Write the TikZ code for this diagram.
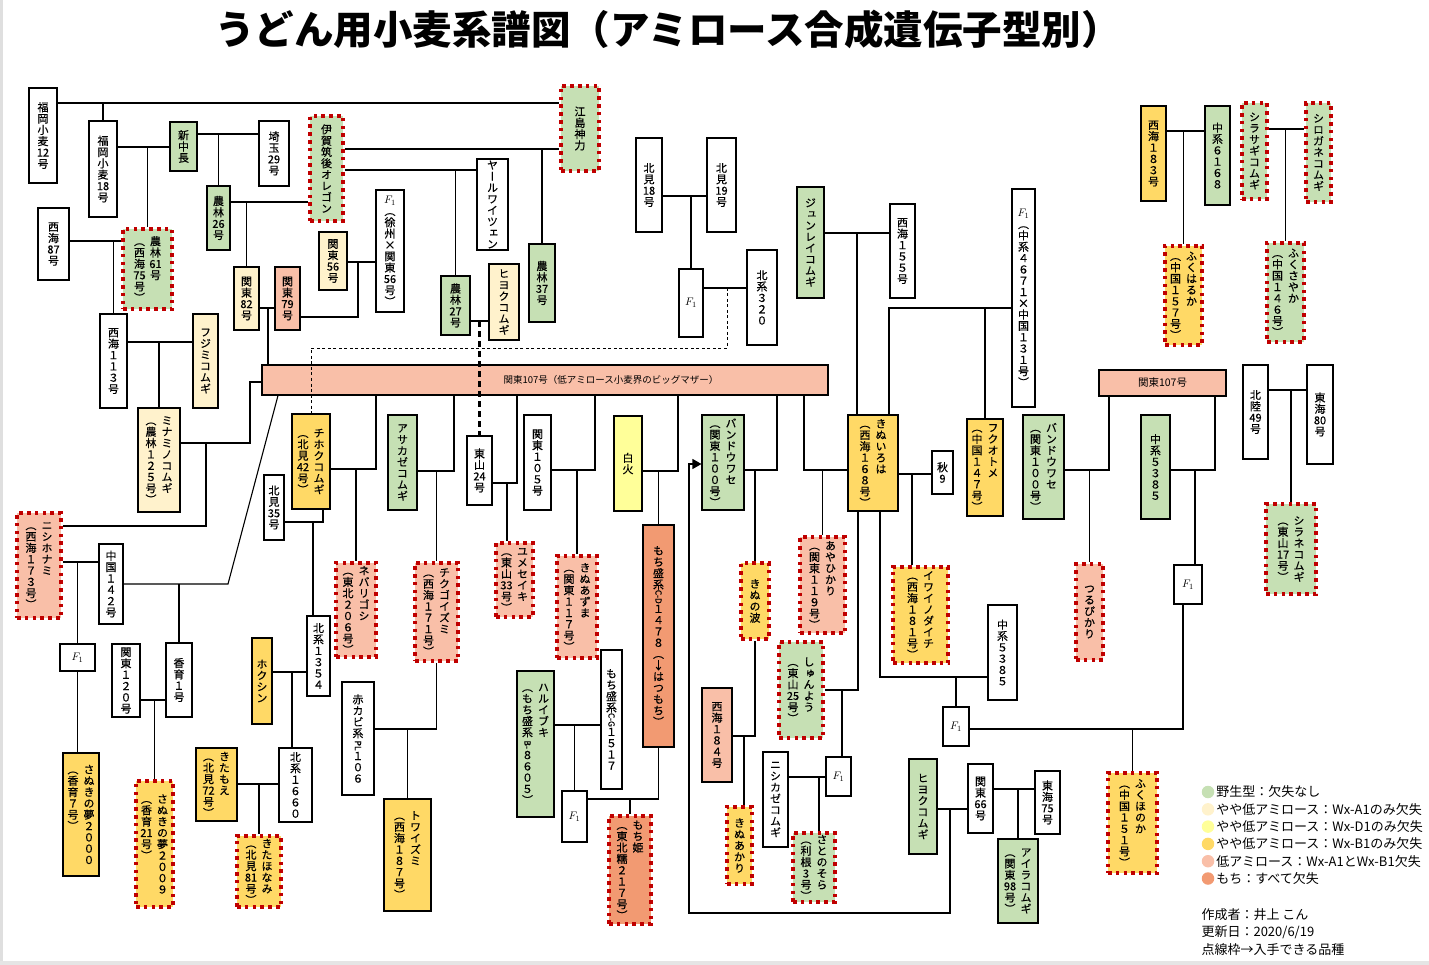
\documentclass[tikz,border=0pt]{standalone}
\usepackage{fontspec}
\usepackage{graphicx}
\setmainfont{Noto Sans CJK JP}
\newfontfamily\tatefont[RawFeature=+vert, FakeBold=0.4]{Noto Sans CJK JP}
\usetikzlibrary{arrows.meta}

\definecolor{cg}{HTML}{C6E0B4}% wild type
\definecolor{cc}{HTML}{FFF2CC}% Wx-A1 only
\definecolor{cy}{HTML}{FFFF99}% Wx-D1 only
\definecolor{co}{HTML}{FFD966}% Wx-B1 only
\definecolor{cs}{HTML}{F9BFA8}% low amylose
\definecolor{cm}{HTML}{F29A72}% waxy
\definecolor{dred}{HTML}{C00000}

% vertical writing: one item per line, {..} keeps a group together
\makeatletter
\newcommand\tate[1]{\vtop{\tatefont\fontsize{11pt}{11.3pt}\selectfont
  \lineskiplimit=0pt\lineskip=1pt
  \@tfor\tt@ch:=#1\do{\hbox to 13pt{\hss\tt@ch\hss}}}}
\makeatother
\newcommand\tatetwo[2]{\tate{#1}\hspace{3pt}\tate{#2}}
\newcommand\rt[1]{\rotatebox[origin=c]{-90}{\fontsize{8.5pt}{9pt}\selectfont #1}}

\begin{document}
\begin{tikzpicture}[x=1pt, y=-1pt, line width=1.1pt,
    sbox/.style={draw, inner sep=0pt, font=\fontsize{11}{11.5}\selectfont},
    sz/.style 2 args={minimum width=#1, minimum height=#2},
    avail/.style={draw=dred, line width=3.6pt, dash pattern=on 3.6pt off 4.2pt},
    udash/.style={line width=2.2pt, dash pattern=on 6pt off 4pt},
    pdash/.style={line width=0.9pt, dash pattern=on 3pt off 2.5pt},
    arr/.style={-{Triangle[length=9pt,width=10pt]}},
  ]
  \useasboundingbox (0,0) rectangle (1429,965);
  \fill[gray!25] (0,0) rectangle (2.5,965);
  \fill[gray!20] (0,961) rectangle (1429,965);

  % --- title ---
  \node[font=\bfseries\fontsize{39.5}{41}\selectfont] (title) at (668,29) {うどん用小麦系譜図（アミロース合成遺伝子型別）};

  % --- upper left ---
  \node[sbox, fill=white, sz={28}{95}]  (f12)  at (43,135.5)   {\tate{福岡小麦{12}号}};
  \node[sbox, fill=white, sz={28}{96}]  (f18)  at (103,169)    {\tate{福岡小麦{18}号}};
  \node[sbox, fill=cg, sz={27}{49}]     (shin) at (183.5,146.5) {\tate{新中長}};
  \node[sbox, fill=white, sz={30}{65}]  (sai)  at (274,153.5)  {\tate{埼玉{29}号}};
  \node[sbox, fill=cg, sz={23}{64}]     (n26)  at (218.5,218)  {\tate{農林{26}号}};
  \node[sbox, fill=cg, avail, sz={33}{105}] (iga) at (326.5,168.5) {\tate{伊賀筑後オレゴン}};
  \node[sbox, fill=white, sz={31}{72}]  (s87)  at (53.5,244)   {\tate{西海{87}号}};
  \node[sbox, fill=cg, avail, sz={49}{80}] (n61) at (147.5,269) {\tatetwo{（西海{75}号）}{農林{61}号}};
  \node[sbox, fill=cc, sz={25}{63}]     (k82)  at (246.5,298.5) {\tate{関東{82}号}};
  \node[sbox, fill=cs, sz={25}{63}]     (k79)  at (287.5,298.5) {\tate{関東{79}号}};
  \node[sbox, fill=cc, sz={28}{58}]     (k56)  at (333,261)    {\tate{関東{56}号}};
  \node[sbox, fill=white, sz={28}{122}] (f1a)  at (390,251)    {\tate{{$F_1$}（徐州×関東{56}号）}};
  \node[sbox, fill=white, sz={27}{94}]  (s113) at (113.5,361)  {\tate{西海１１３号}};
  \node[sbox, fill=cc, sz={25}{94}]     (fuji) at (205.5,361)  {\tate{フジミコムギ}};
  \node[sbox, fill=cc, sz={42}{104}]    (mina) at (159,460)    {\tatetwo{（農林１２５号）}{ミナミノコムギ}};
  \node[sbox, fill=cg, avail, sz={38}{85}] (eji) at (580,128.5) {\tate{江島神力}};
  \node[sbox, fill=white, sz={31}{91}]  (yaru) at (492.5,204.5) {\tate{ヤールワイツェン}};
  \node[sbox, fill=cg, sz={29}{59}]     (n27)  at (455.5,305.5) {\tate{農林{27}号}};
  \node[sbox, fill=cc, sz={30}{76}]     (hiyo1) at (504,302)   {\tate{ヒヨクコムギ}};
  \node[sbox, fill=cg, sz={26}{78}]     (n37)  at (542,283)    {\tate{農林{37}号}};
  \node[sbox, fill=white, sz={26}{94}]  (k18)  at (649,185)    {\tate{北見{18}号}};
  \node[sbox, fill=white, sz={29}{94}]  (k19)  at (721.5,185)  {\tate{北見{19}号}};
  \node[sbox, fill=white, sz={24}{68}]  (f1h)  at (691,303)    {$F_1$};
  \node[sbox, fill=white, sz={30}{95}]  (h320) at (762,297.5)  {\tate{北系３２０}};

  % --- Kanto 107 ---
  \node[sbox, fill=cs, sz={566}{30}, font=\fontsize{9.5}{10}\selectfont] (bar) at (545,380)
    {\hspace*{132pt}関東107号（低アミロース小麦界のビッグマザー）};

  % --- lower left ---
  \node[sbox, fill=cs, avail, sz={44}{105}] (nishi) at (39,565.5) {\tatetwo{（西海１７３号）}{ニシホナミ}};
  \node[sbox, fill=white, sz={24}{80}]  (c142) at (111,584)    {\tate{中国１４２号}};
  \node[sbox, fill=white, sz={35}{27}]  (f1b)  at (77.5,657.5) {$F_1$};
  \node[sbox, fill=white, sz={28}{73}]  (k120) at (126,680.5)  {\tate{関東１２０号}};
  \node[sbox, fill=white, sz={26}{74}]  (ka1)  at (179,680)    {\tate{香育１号}};
  \node[sbox, fill=co, sz={36}{123}]    (san2000) at (81,814.5) {\tatetwo{（香育７号）}{さぬきの夢２０００}};
  \node[sbox, fill=co, avail, sz={37}{126}] (san2009) at (154.5,844) {\tatetwo{（香育{21}号）}{さぬきの夢２００９}};
  \node[sbox, fill=co, sz={20}{86}]     (hokushin) at (262,681) {\tate{ホクシン}};
  \node[sbox, fill=white, sz={23}{80}]  (h1354) at (318.5,656) {\tate{北系１３５４}};
  \node[sbox, fill=co, sz={41}{73}]     (kitamoe) at (216.5,784.5) {\tatetwo{（北見{72}号）}{きたもえ}};
  \node[sbox, fill=white, sz={33}{74}]  (h1660) at (295.5,785) {\tate{北系１６６０}};
  \node[sbox, fill=co, avail, sz={44}{71}] (kitahonami) at (259,871.5) {\tatetwo{（北見{81}号）}{きたほなみ}};
  \node[sbox, fill=white, sz={20}{65}]  (k35)  at (274,507.5)  {\tate{北見{35}号}};
  \node[sbox, fill=co, sz={38}{95}]     (chiho) at (311,461.5) {\tatetwo{（北見{42}号）}{チホクコムギ}};
  \node[sbox, fill=cs, avail, sz={40}{94}] (neba) at (356,610) {\tatetwo{（東北２０６号）}{ネバリゴシ}};
  \node[sbox, fill=cg, sz={29}{95}]     (asa)  at (402.5,462.5) {\tate{アサカゼコムギ}};
  \node[sbox, fill=cs, avail, sz={43}{98}] (chiku) at (436.5,612) {\tatetwo{（西海１７１号）}{チクゴイズミ}};
  \node[sbox, fill=white, sz={32}{113}] (aka)  at (358,738.5)  {\tate{赤カビ系{\rt{PL}}１０６}};
  \node[sbox, fill=co, sz={47}{112}]    (towa) at (407.5,855)  {\tatetwo{（西海１８７号）}{トワイズミ}};
  \node[sbox, fill=white, sz={25}{69}]  (t24)  at (479.5,470.5) {\tate{東山{24}号}};
  \node[sbox, fill=cs, avail, sz={37}{74}] (yume) at (514.5,580) {\tatetwo{（東山{33}号）}{ユメセイキ}};
  \node[sbox, fill=white, sz={27}{95}]  (k105) at (537.5,462.5) {\tate{関東１０５号}};
  \node[sbox, fill=cs, avail, sz={40}{102}] (kinuazu) at (577,607) {\tatetwo{（関東１１７号）}{きぬあずま}};
  \node[sbox, fill=cy, sz={28}{95}]     (shirobi) at (628,463.5) {\tate{白火}};
  \node[sbox, fill=cm, sz={31}{222}]    (mochiD) at (658.5,636) {\tate{もち盛系{\rt{C-D}}１４７８（↓はつもち）}};
  \node[sbox, fill=white, sz={21}{139}] (mochiG) at (611.5,719.5) {\tate{もち盛系{\rt{C-G}}１５１７}};
  \node[sbox, fill=cg, sz={37}{146}]    (harui) at (535.5,744) {\tatetwo{（もち盛系{\rt{B-}}８６０５）}{ハルイブキ}};
  \node[sbox, fill=white, sz={25}{51}]  (f1c)  at (574.5,816.5) {$F_1$};
  \node[sbox, fill=cm, avail, sz={42}{108}] (mochihime) at (630,870) {\tatetwo{（東北糯２１７号）}{もち姫}};

  % --- middle ---
  \node[sbox, fill=cg, sz={42}{95}]     (bando1) at (723,462.5) {\tatetwo{（関東１００号）}{バンドウワセ}};
  \node[sbox, fill=co, avail, sz={28}{76}] (kinunami) at (755,601) {\tate{きぬの波}};
  \node[sbox, fill=cs, sz={30}{94}]     (s184) at (717,735)    {\tate{西海１８４号}};
  \node[sbox, fill=co, avail, sz={25}{77}] (kinuakari) at (739.5,845.5) {\tate{きぬあかり}};
  \node[sbox, fill=cs, avail, sz={45}{96}] (aya) at (822.5,585) {\tatetwo{（関東１１９号）}{あやひかり}};
  \node[sbox, fill=co, sz={50}{96}]     (kinuiro) at (873,463) {\tatetwo{（西海１６８号）}{きぬいろは}};
  \node[sbox, fill=cg, sz={27}{111}]    (jun)  at (810.5,242.5) {\tate{ジュンレイコムギ}};
  \node[sbox, fill=white, sz={25}{94}]  (s155) at (902.5,251)  {\tate{西海１５５号}};
  \node[sbox, fill=white, sz={23}{218}] (f1d)  at (1023.5,298) {\tate{{$F_1$}（中系４６７１×中国１３１号）}};
  \node[sbox, fill=white, sz={21}{43}]  (aki)  at (942.5,472.5) {\tate{秋{9}}};
  \node[sbox, fill=co, avail, sz={55}{96}] (iwai) at (920.5,615) {\tatetwo{（西海１８１号）}{イワイノダイチ}};
  \node[sbox, fill=co, sz={36}{97}]     (fuku) at (985,467.5)  {\tatetwo{（中国１４７号）}{フクオトメ}};
  \node[sbox, fill=cg, avail, sz={44}{96}] (shun) at (801,690) {\tatetwo{（東山{25}号）}{しゅんよう}};
  \node[sbox, fill=white, sz={25}{39}]  (f1g)  at (838.5,776.5) {$F_1$};
  \node[sbox, fill=white, sz={25}{95}]  (nishika) at (775.5,799.5) {\tate{ニシカゼコムギ}};
  \node[sbox, fill=cg, avail, sz={42}{69}] (sato) at (814,867.5) {\tatetwo{（利根{3}号）}{さとのそら}};
  \node[sbox, fill=white, sz={29}{95}]  (c5385w) at (1002.5,652.5) {\tate{中系５３８５}};
  \node[sbox, fill=white, sz={26}{39}]  (f1f)  at (956,726.5)  {$F_1$};
  \node[sbox, fill=cg, sz={28}{95}]     (hiyo2) at (923,806.5) {\tate{ヒヨクコムギ}};
  \node[sbox, fill=white, sz={25}{69}]  (k66)  at (980.5,798.5) {\tate{関東{66}号}};
  \node[sbox, fill=white, sz={25}{63}]  (t75)  at (1047.5,802.5) {\tate{東海{75}号}};
  \node[sbox, fill=cg, sz={40}{84}]     (aira) at (1018,881)   {\tatetwo{（関東{98}号）}{アイラコムギ}};

  % --- right ---
  \node[sbox, fill=cg, sz={41}{104}]    (bando2) at (1043.5,467) {\tatetwo{（関東１００号）}{バンドウワセ}};
  \node[sbox, fill=cs, sz={127}{26}, font=\fontsize{10.5}{11}\selectfont] (k107b) at (1162.5,383) {関東107号};
  \node[sbox, fill=cs, avail, sz={27}{96}] (tsuru) at (1089.5,612) {\tate{つるぴかり}};
  \node[sbox, fill=cg, sz={29}{104}]    (c5385g) at (1155.5,467) {\tate{中系５３８５}};
  \node[sbox, fill=white, sz={28}{39}]  (f1e)  at (1188,584.5)  {$F_1$};
  \node[sbox, fill=co, avail, sz={49}{100}] (fukuho) at (1132.5,823) {\tatetwo{（中国１５１号）}{ふくほのか}};
  \node[sbox, fill=co, sz={25}{95}]     (s183) at (1153.5,153.5) {\tate{西海１８３号}};
  \node[sbox, fill=cg, sz={25}{99}]     (c6168) at (1217.5,155.5) {\tate{中系６１６８}};
  \node[sbox, fill=co, avail, sz={37}{99}] (fukuha) at (1183.5,295.5) {\tatetwo{（中国１５７号）}{ふくはるか}};
  \node[sbox, fill=cg, avail, sz={25}{96}] (shirasa) at (1254.5,151) {\tate{シラサギコムギ}};
  \node[sbox, fill=cg, avail, sz={25}{99}] (shiroga) at (1318.5,152.5) {\tate{シロガネコムギ}};
  \node[sbox, fill=cg, avail, sz={37}{99}] (fukusa) at (1285.5,292.5) {\tatetwo{（中国１４６号）}{ふくさやか}};
  \node[sbox, fill=white, sz={25}{94}]  (h49)  at (1255.5,412)  {\tate{北陸{49}号}};
  \node[sbox, fill=white, sz={26}{99}]  (t80)  at (1320,414.5)  {\tate{東海{80}号}};
  \node[sbox, fill=cg, avail, sz={50}{90}] (shirane) at (1291,549) {\tatetwo{（東山{17}号）}{シラネコムギ}};

  % --- lines, upper left ---
  \draw (f12.east |- 0,103) -- (eji.west |- 0,103);
  \draw (f18.north |- 0,103) -- (f18.north);
  \draw (f18.east |- 0,147) -- (shin.west |- 0,147);
  \draw (n61.north |- 0,147) -- (n61.north);
  \draw (shin.east |- 0,134) -- (sai.west |- 0,134);
  \draw (n26.north |- 0,134) -- (n26.north);
  \draw (n26.east |- 0,202) -- (iga.west |- 0,202);
  \draw (k82.north |- 0,202) -- (k82.north);
  \draw (s87.east |- 0,241) -- (n61.west |- 0,241);
  \draw (s113.north |- 0,241) -- (s113.north);
  \draw (s113.east |- 0,342) -- (fuji.west |- 0,342);
  \draw (mina.north |- 0,342) -- (mina.north);
  \draw (k82.east |- 0,308) -- (k79.west |- 0,308);
  \draw (268,308) -- (bar.north -| 268,0);
  \draw (k56.east |- 0,262) -- (f1a.west |- 0,262);
  \draw (k79.east |- 0,317) -| (358,262);
  \draw (iga.east |- 0,149) -- (eji.west |- 0,149);
  \draw (n37.north |- 0,149) -- (n37.north);
  \draw (iga.east |- 0,170) -- (yaru.west |- 0,170);
  \draw (n27.north |- 0,170) -- (n27.north);
  \draw (n27.east |- 0,321) -- (hiyo1.west |- 0,321);
  \draw (k18.east |- 0,196) -- (k19.west |- 0,196);
  \draw (f1h.north |- 0,196) -- (f1h.north);
  \draw (f1h.east |- 0,288) -- (h320.west |- 0,288);

  % --- lines, lower left ---
  \draw (mina.east |- 0,443) -| (250,382) -- (bar.west |- 0,382);
  \draw (206,443) |- (nishi.east |- 0,526);
  \draw (nishi.east |- 0,562) -- (c142.west |- 0,562);
  \draw (f1b.north |- 0,562) -- (f1b.north);
  \draw (c142.east |- 0,584) -- (228,584) -- (bar.south -| 278,0);
  \draw (ka1.north |- 0,584) -- (ka1.north);
  \draw (f1b.south) -- (f1b.south |- san2000.north);
  \draw (k120.east |- 0,700) -- (ka1.west |- 0,700);
  \draw (san2009.north |- 0,700) -- (san2009.north);
  \draw (chiho.east |- 0,469) -| (bar.south -| 376,0);
  \draw (neba.north |- 0,469) -- (neba.north);
  \draw ([xshift=12pt]chiho.south) |- (k35.east |- 0,522);
  \draw (313,522) -- (h1354.north -| 313,0);
  \draw (hokushin.east |- 0,672) -- (h1354.west |- 0,672);
  \draw (292,672) -- (h1660.north -| 292,0);
  \draw (kitamoe.east |- 0,784) -- (h1660.west |- 0,784);
  \draw (kitahonami.north |- 0,784) -- (kitahonami.north);
  \draw (asa.east |- 0,471) -| (bar.south -| 454,0);
  \draw (chiku.north |- 0,471) -- (chiku.north);
  \draw (chiku.south) |- (aka.east |- 0,729);
  \draw (towa.north |- 0,729) -- (towa.north);
  \draw (t24.east |- 0,483) -| (bar.south -| 517,0);
  \draw (507,483) -- (yume.north -| 507,0);
  \draw (k105.east |- 0,470) -| (bar.south -| 595,0);
  \draw (kinuazu.north |- 0,470) -- (kinuazu.north);
  \draw (shirobi.east |- 0,471) -| (bar.south -| 678,0);
  \draw (mochiD.north |- 0,471) -- (mochiD.north);
  \draw (harui.east |- 0,725) -- (mochiG.west |- 0,725);
  \draw (f1c.north |- 0,725) -- (f1c.north);
  \draw (f1c.east |- 0,799) -| (mochiD.south);
  \draw (mochihime.north |- 0,799) -- (mochihime.north);

  % --- uncertain parentage ---
  \draw[udash] (t24.north |- 0,321) -- (t24.north);
  \draw[pdash] (727,288) |- (chiho.north |- 0,348) -- (chiho.north);

  % --- lines, middle ---
  \draw (bando1.east |- 0,470) -| (bar.south -| 777,0);
  \draw (kinunami.north |- 0,470) -- (kinunami.north);
  \draw (kinunami.south) |- (s184.east |- 0,736);
  \draw (744,736) -- (kinuakari.north -| 744,0);
  \draw (hiyo2.east |- 0,809) -- (k66.west |- 0,809);
  \draw[arr] (950,809) |- (689,913) |- (bando1.west |- 0,464);
  \draw (bar.south -| 804,0) |- (kinuiro.west |- 0,470);
  \draw (aya.north |- 0,470) -- (aya.north);
  \draw (jun.east |- 0,233) -- (s155.west |- 0,233);
  \draw (857,233) -- (kinuiro.north -| 857,0);
  \draw (f1d.west |- 0,308) -| (kinuiro.north -| 889,0);
  \draw (fuku.north |- 0,308) -- (fuku.north);
  \draw (kinuiro.east |- 0,474) -- (aki.west |- 0,474);
  \draw (912,474) -- (iwai.north -| 912,0);
  \draw (kinuiro.south -| 858,0) |- (shun.east |- 0,690);
  \draw (842,690) -- (f1g.north -| 842,0);
  \draw (kinuiro.south -| 880,0) |- (c5385w.west |- 0,677);
  \draw (f1f.north |- 0,677) -- (f1f.north);
  \draw (nishika.east |- 0,777) -- (f1g.west |- 0,777);
  \draw (819,777) -- (sato.north -| 819,0);
  \draw (f1f.east |- 0,729) -| (f1e.south -| 1183,0);
  \draw (fukuho.north |- 0,729) -- (fukuho.north);
  \draw (k66.east |- 0,789) -- (t75.west |- 0,789);
  \draw (aira.north |- 0,789) -- (aira.north);

  % --- lines, right ---
  \draw (k107b.south -| 1109,0) |- (bando2.east |- 0,470);
  \draw (tsuru.north |- 0,470) -- (tsuru.north);
  \draw (k107b.south -| 1215,0) |- (c5385g.east |- 0,470);
  \draw (1195,470) -- (f1e.north -| 1195,0);
  \draw (s183.east |- 0,131) -- (c6168.west |- 0,131);
  \draw (fukuha.north |- 0,131) -- (fukuha.north);
  \draw (shirasa.east |- 0,129) -- (shiroga.west |- 0,129);
  \draw (fukusa.north |- 0,129) -- (fukusa.north);
  \draw (h49.east |- 0,390) -- (t80.west |- 0,390);
  \draw (shirane.north |- 0,390) -- (shirane.north);

  % --- legend ---
  \foreach \col/\txt [count=\i from 0] in {cg/野生型：欠失なし, cc/やや低アミロース：Wx-A1のみ欠失,
      cy/やや低アミロース：Wx-D1のみ欠失, co/やや低アミロース：Wx-B1のみ欠失,
      cs/低アミロース：Wx-A1とWx-B1欠失, cm/もち：すべて欠失} {
    \node[circle, fill=\col, inner sep=0pt, minimum size=12.5pt] (dot\i) at (1208,792+17.3*\i) {};
    \node[anchor=west, inner sep=1pt, font=\fontsize{13}{14}\selectfont] (lg\i) at (dot\i.east) {\txt};
  }
  \node[anchor=west, inner sep=0pt, font=\fontsize{13}{14}\selectfont] (auth) at (1201,915) {作成者：井上 こん};
  \node[anchor=west, inner sep=0pt, font=\fontsize{13}{14}\selectfont] (upd) at (1201,932.5) {更新日：2020/6/19};
  \node[anchor=west, inner sep=0pt, font=\fontsize{13}{14}\selectfont] (note) at (1201,950) {点線枠→入手できる品種};

\end{tikzpicture}
\end{document}
